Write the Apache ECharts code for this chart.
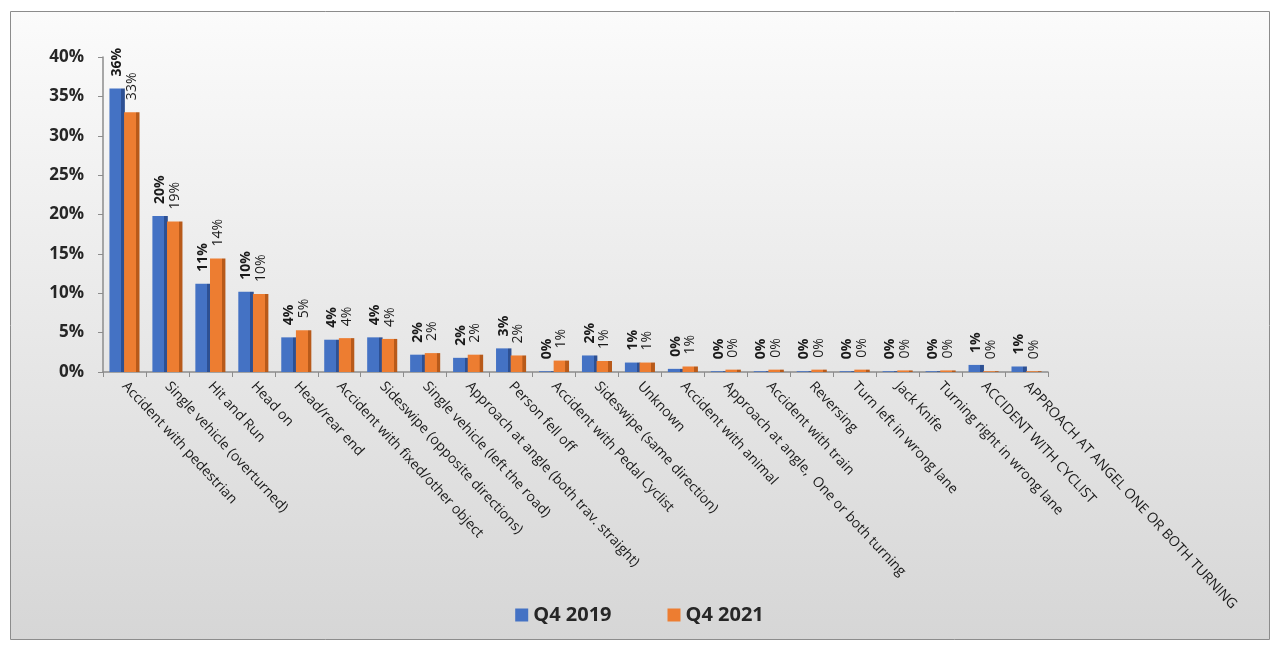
<!DOCTYPE html>
<html><head><meta charset="utf-8">
<script src="https://cdn.jsdelivr.net/npm/echarts@6/dist/echarts.min.js"></script>
<style>html,body{margin:0;padding:0;background:#fff}#c{width:1279px;height:647px}</style>
</head><body><div id="c"></div>
<script>
const categories = ["Accident with pedestrian","Single vehicle (overturned)","Hit and Run","Head on","Head/rear end","Accident with fixed/other object","Sideswipe (opposite directions)","Single vehicle (left the road)","Approach at angle (both trav. straight)","Person fell off","Accident with Pedal Cyclist","Sideswipe (same direction)","Unknown","Accident with animal","Approach at angle,  One or both turning","Accident with train","Reversing","Turn left in wrong lane","Jack Knife","Turning right in wrong lane","ACCIDENT WITH CYCLIST","APPROACH AT ANGEL ONE OR BOTH TURNING"];
const q42019 = [36.0,19.8,11.2,10.2,4.4,4.1,4.4,2.2,1.8,3.0,0.1,2.1,1.2,0.4,0.1,0.1,0.1,0.1,0.1,0.1,0.9,0.7];
const q42021 = [33.0,19.1,14.4,9.9,5.3,4.3,4.2,2.4,2.2,2.1,1.45,1.4,1.2,0.7,0.3,0.3,0.3,0.3,0.2,0.2,0.1,0.1];
const yTicks = [0,5,10,15,20,25,30,35,40];
</script>
<script>
const chart = echarts.init(document.getElementById('c'));
function grad(face, side){
  return new echarts.graphic.LinearGradient(0,0,1,0,[
    {offset:0,color:face},{offset:0.76,color:face},{offset:0.77,color:side},{offset:1,color:side}]);
}
const font = '"Open Sans", "Liberation Sans", sans-serif';
chart.setOption({
  backgroundColor: '#ffffff',
  graphic: [{
    type:'rect', left:10, top:11, shape:{width:1259, height:628},
    style:{fill:new echarts.graphic.LinearGradient(0,0,0,1,[{offset:0,color:'#fbfbfb'},{offset:1,color:'#d6d6d6'}]), stroke:'#8c8c8c', lineWidth:1},
    z:-10, silent:true
  }],
  legend: {
    data:[{name:'Q4 2019', itemStyle:{color:'#4472c4'}},{name:'Q4 2021', itemStyle:{color:'#ed7d31'}}],
    bottom:17, left:'center', itemWidth:13, itemHeight:13, itemGap:56,
    icon:'rect',
    textStyle:{fontFamily:font, fontSize:20, fontWeight:'bold', color:'#262626'}
  },
  grid: {left:103, top:57, right:231, bottom:275, containLabel:false},
  xAxis: {
    type:'category', data:categories,
    axisLine:{show:true, lineStyle:{color:'#8c8c8c', width:1.5}},
    axisTick:{show:true, alignWithLabel:false, lineStyle:{color:'#8c8c8c'}, length:5},
    axisLabel:{interval:0, rotate:-47, fontFamily:font, fontSize:14, color:'#1a1a1a', margin:12}
  },
  yAxis: {
    type:'value', min:0, max:40, interval:5,
    axisLine:{show:true, lineStyle:{color:'#8c8c8c', width:1.5}},
    axisTick:{show:true, lineStyle:{color:'#8c8c8c'}, length:5},
    splitLine:{show:false},
    axisLabel:{formatter: v => yTicks.includes(v) ? v + '%' : '', fontFamily:font, fontSize:17, fontWeight:'bold', color:'#262626', margin:19}
  },
  series: [
    {name:'Q4 2019', type:'bar', data:q42019, barGap:'-5%', barCategoryGap:'30%',
     itemStyle:{color:grad('#4472c4','#2d5093')},
     label:{show:true, position:'top', rotate:90, align:'left', verticalAlign:'middle', distance:12,
       formatter:p=>Math.round(p.value)+'%', fontFamily:font, fontSize:14, fontWeight:'bold', color:'#1a1a1a'}},
    {name:'Q4 2021', type:'bar', data:q42021,
     itemStyle:{color:grad('#ed7d31','#b85a1a')},
     label:{show:true, position:'top', rotate:90, align:'left', verticalAlign:'middle', distance:12,
       formatter:p=>Math.round(p.value)+'%', fontFamily:font, fontSize:14, color:'#1a1a1a'}}
  ],
  color:['#4472c4','#ed7d31']
});
</script>
</body></html>
